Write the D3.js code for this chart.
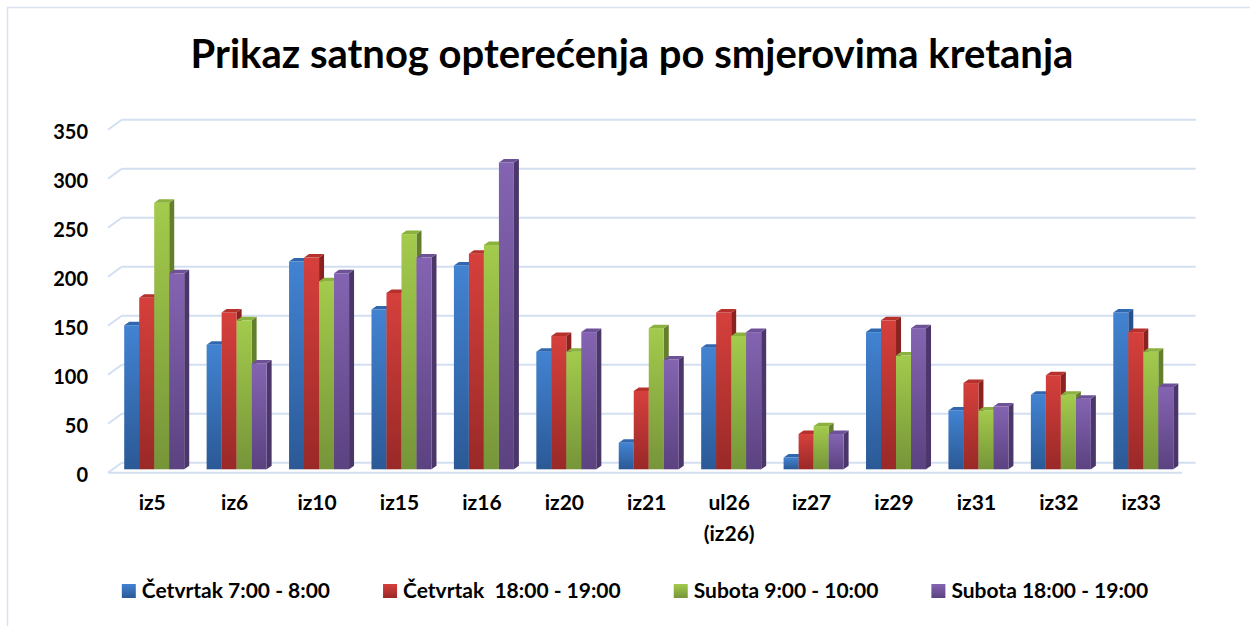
<!DOCTYPE html>
<html>
<head>
<meta charset="utf-8">
<script src="https://cdn.jsdelivr.net/npm/d3@7"></script>
<style>
    body { margin: 0; background: #fff; }
    text { font-family: Lato, "Open Sans", sans-serif; font-weight: bold; fill: #000; }
</style>
</head>
<body>
<div id="graphContainer"></div>
<script>
//chart data
var categories = ["iz5", "iz6", "iz10", "iz15", "iz16", "iz20", "iz21", "ul26 (iz26)", "iz27", "iz29", "iz31", "iz32", "iz33"];

var cetvrtakJutro = [147, 127, 212, 163, 208, 120, 27, 124, 12, 140, 60, 76, 160],
    cetvrtakVecer = [175, 160, 216, 180, 220, 136, 80, 160, 36, 152, 88, 96, 140],
    subotaJutro = [272, 152, 192, 240, 229, 120, 144, 136, 44, 116, 60, 76, 120],
    subotaVecer = [200, 108, 200, 216, 313, 140, 112, 140, 36, 144, 64, 72, 84];

var seriesNames = ["Četvrtak 7:00 - 8:00", "Četvrtak\u00a0 18:00 - 19:00", "Subota 9:00 - 10:00", "Subota 18:00 - 19:00"];

var yTicks = [0, 50, 100, 150, 200, 250, 300, 350];

var title = "Prikaz satnog opterećenja po smjerovima kretanja";

//colours: front top, front bottom, side, top face
var colors = [
    {id: "blue", top: "#4283d2", bottom: "#2b5996", side: "#27508c", cap: "#3068b0"},
    {id: "red", top: "#d6403c", bottom: "#992927", side: "#8a2320", cap: "#b6302c"},
    {id: "green", top: "#a3cb4c", bottom: "#769539", side: "#637f2c", cap: "#8bb13f"},
    {id: "purple", top: "#8464b2", bottom: "#5b4280", side: "#4a3668", cap: "#6d5298"}
];

var series = [cetvrtakJutro, cetvrtakVecer, subotaJutro, subotaVecer];

var width = 1250,
    height = 626;

var svg = d3.select("#graphContainer").append("svg")
    .attr("width", width)
    .attr("height", height);

//outer frame of the chart
svg.append("rect")
    .attr("x", 7.5)
    .attr("y", 7.5)
    .attr("width", 1260)
    .attr("height", 640)
    .attr("fill", "#fff")
    .attr("stroke", "#d9e2ee")
    .attr("stroke-width", 1.5);

//gradients for the bars and legend keys
var defs = svg.append("defs");
colors.forEach(function (c) {
    var grad = defs.append("linearGradient")
        .attr("id", "grad-" + c.id)
        .attr("x1", 0).attr("y1", 0)
        .attr("x2", 0).attr("y2", 1);
    grad.append("stop").attr("offset", "0%").attr("stop-color", c.top);
    grad.append("stop").attr("offset", "100%").attr("stop-color", c.bottom);
});

//3d depth of the walls and of the bars
var wallDx = 13.7,
    wallDy = 10,
    barDx = 5,
    barDy = 3.5;

//back wall scale, floor front scale and bar front scale
var yBack = d3.scaleLinear().domain([0, 350]).range([462.7, 119.7]),
    yFloor = d3.scaleLinear().domain([0, 350]).range([472.7, 129.7]),
    yBar = d3.scaleLinear().domain([0, 350]).range([469.3, 126.3]);

var x = d3.scaleBand()
    .domain(categories)
    .range([108, 1179.5])
    .paddingInner(0.272)
    .paddingOuter(0.136);

var xSeries = d3.scaleBand()
    .domain(d3.range(series.length))
    .range([0, x.bandwidth()]);

//title
svg.append("text")
    .attr("x", 632)
    .attr("y", 68)
    .attr("text-anchor", "middle")
    .style("font-size", "40px")
    .text(title);

//gridlines on the back and left walls
var grid = svg.append("g").attr("class", "grid");

grid.selectAll(".back")
    .data(yTicks)
    .enter().append("line")
    .attr("class", "back")
    .attr("x1", 108 + wallDx)
    .attr("x2", 1182 + wallDx)
    .attr("y1", function (d) { return yBack(d); })
    .attr("y2", function (d) { return yBack(d); });

grid.selectAll(".side")
    .data(yTicks)
    .enter().append("line")
    .attr("class", "side")
    .attr("x1", 108)
    .attr("x2", 108 + wallDx)
    .attr("y1", function (d) { return yBack(d) + wallDy; })
    .attr("y2", function (d) { return yBack(d); });

//front edge of the floor
grid.append("line")
    .attr("x1", 108)
    .attr("x2", 1182)
    .attr("y1", yFloor(0))
    .attr("y2", yFloor(0));

grid.selectAll("line")
    .attr("stroke", "#d3dff0")
    .attr("stroke-width", 2);

//y axis labels
var yAxis = svg.append("g")
    .attr("transform", "translate(88,2.5)")
    .call(d3.axisLeft(yFloor).tickValues(yTicks).tickSize(0).tickPadding(0));

yAxis.select(".domain").remove();
yAxis.selectAll("text")
    .attr("fill", "#000")
    .style("font-size", "20px")
    .style("font-family", "Lato, sans-serif");

//x axis labels, multi line for the long one
var xAxis = svg.append("g")
    .attr("transform", "translate(3,480)")
    .call(d3.axisBottom(x).tickSize(0).tickPadding(0));

xAxis.select(".domain").remove();
xAxis.selectAll("text")
    .attr("fill", "#000")
    .style("font-size", "21px")
    .style("font-family", "Lato, sans-serif")
    .each(function (d) {
        var t = d3.select(this),
            words = d.split(" ");
        t.text(null).attr("y", 0).attr("dy", null);
        words.forEach(function (w, i) {
            t.append("tspan")
                .attr("x", 0)
                .attr("y", 30 + i * 31)
                .text(w);
        });
    });

//bars, drawn left to right so that side faces sit behind the next bar
var groups = svg.append("g").attr("class", "bars")
    .selectAll(".cat")
    .data(categories)
    .enter().append("g")
    .attr("class", "cat")
    .attr("transform", function (d) { return "translate(" + (x(d) + barDx) + ",0)"; });

var bar = groups.selectAll(".bar")
    .data(function (d, i) {
        return series.map(function (s, j) { return {series: j, value: s[i]}; });
    })
    .enter().append("g")
    .attr("class", "bar");

var bw = xSeries.bandwidth(),
    base = yBar(0);

bar.append("polygon")
    .attr("fill", function (d) { return colors[d.series].side; })
    .attr("points", function (d) {
        var x0 = xSeries(d.series) + bw,
            top = yBar(d.value);
        return [[x0, top], [x0 + barDx, top - barDy], [x0 + barDx, base - barDy], [x0, base]].join(" ");
    });

bar.append("rect")
    .attr("x", function (d) { return xSeries(d.series); })
    .attr("y", function (d) { return yBar(d.value); })
    .attr("width", bw)
    .attr("height", function (d) { return base - yBar(d.value); })
    .attr("fill", function (d) { return "url(#grad-" + colors[d.series].id + ")"; });

bar.append("polygon")
    .attr("fill", function (d) { return colors[d.series].cap; })
    .attr("points", function (d) {
        var x0 = xSeries(d.series),
            top = yBar(d.value);
        return [[x0, top], [x0 + barDx, top - barDy], [x0 + bw + barDx, top - barDy], [x0 + bw, top]].join(" ");
    });

//legend, items laid out from their text widths and centred
var legend = svg.append("g").attr("class", "legend");

var item = legend.selectAll(".item")
    .data(seriesNames)
    .enter().append("g")
    .attr("class", "item");

item.append("rect")
    .attr("x", 0)
    .attr("y", -14)
    .attr("width", 14)
    .attr("height", 14)
    .attr("fill", function (d, i) { return "url(#grad-" + colors[i].id + ")"; });

item.append("text")
    .attr("x", 20)
    .attr("y", 0)
    .style("font-size", "21px")
    .text(function (d) { return d; });

var widths = [];
item.select("text").each(function () { widths.push(20 + this.getComputedTextLength()); });

var gap = 53,
    total = d3.sum(widths) + gap * (widths.length - 1),
    cursor = 635 - total / 2;

item.attr("transform", function (d, i) {
    var pos = cursor;
    cursor += widths[i] + gap;
    return "translate(" + pos + ",598)";
});
</script>
</body>
</html>
